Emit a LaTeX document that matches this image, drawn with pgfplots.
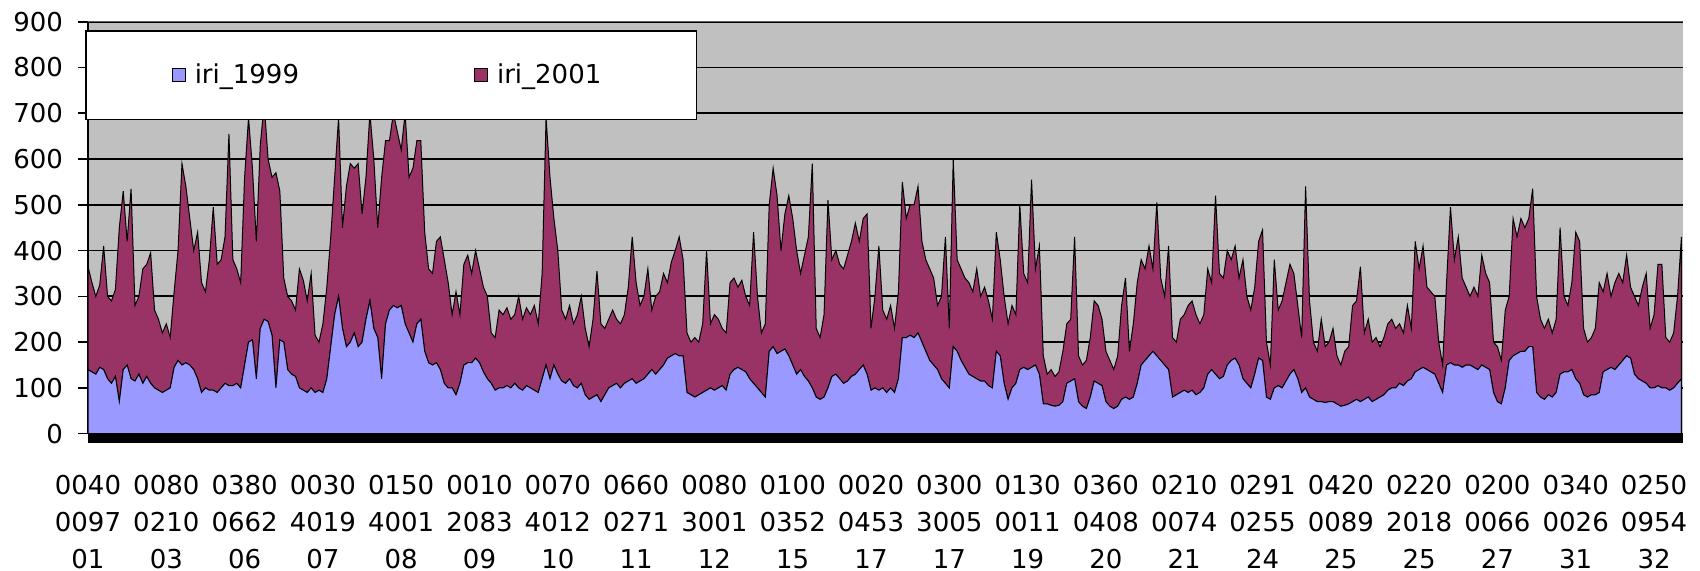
\documentclass[border=0pt]{standalone}
\usepackage{pgfplots}
\pgfplotsset{compat=1.18}
\usepackage{pgfplotstable}
\usepackage{fontspec}
\setmainfont{DejaVu Sans}
\definecolor{xlblue}{HTML}{9999FF}
\definecolor{xlmaroon}{HTML}{993366}
\definecolor{xlgray}{HTML}{C0C0C0}

% i = sample index, a = iri_1999, b = iri_2001 (stacked on top of iri_1999)
\pgfplotstableread{
i a b
0 140 225
1 135 195
2 130 170
3 145 180
4 140 270
5 120 180
6 110 180
7 125 190
8 70 380
9 140 390
10 150 270
11 120 415
12 115 165
13 130 170
14 110 250
15 125 245
16 110 285
17 100 170
18 95 155
19 90 130
20 95 145
21 100 110
22 145 165
23 160 240
24 150 440
25 155 385
26 150 320
27 140 260
28 120 320
29 90 240
30 100 210
31 95 285
32 95 400
33 90 280
34 100 280
35 110 320
36 105 550
37 105 275
38 110 250
39 100 230
40 150 410
41 200 490
42 205 375
43 120 300
44 230 400
45 250 470
46 245 355
47 215 345
48 100 470
49 205 325
50 200 140
51 140 160
52 130 160
53 125 145
54 100 260
55 95 240
56 90 200
57 100 250
58 90 125
59 95 105
60 90 150
61 120 200
62 190 240
63 260 300
64 300 390
65 230 220
66 190 350
67 200 390
68 220 360
69 190 400
70 200 280
71 250 310
72 290 410
73 230 370
74 210 240
75 120 440
76 240 400
77 270 370
78 280 420
79 275 385
80 280 340
81 240 460
82 220 340
83 200 380
84 240 400
85 250 390
86 180 260
87 155 205
88 150 200
89 155 265
90 140 290
91 110 270
92 100 230
93 100 160
94 85 225
95 110 150
96 150 220
97 155 235
98 155 195
99 165 235
100 155 205
101 135 185
102 120 180
103 110 110
104 95 115
105 100 170
106 100 160
107 105 170
108 100 150
109 110 150
110 100 200
111 95 155
112 105 170
113 100 160
114 95 185
115 90 150
116 120 230
117 150 540
118 120 440
119 150 320
120 130 270
121 115 155
122 110 140
123 120 160
124 105 135
125 100 160
126 110 190
127 85 145
128 75 115
129 80 170
130 85 270
131 70 170
132 85 145
133 100 150
134 105 165
135 110 140
136 100 140
137 110 150
138 115 205
139 120 310
140 110 220
141 115 165
142 120 180
143 130 230
144 140 130
145 130 170
146 140 170
147 150 200
148 165 165
149 170 205
150 175 225
151 170 260
152 170 210
153 90 130
154 85 115
155 80 130
156 85 115
157 90 150
158 95 305
159 100 140
160 95 165
161 100 150
162 105 125
163 95 125
164 130 200
165 140 200
166 145 175
167 140 195
168 135 165
169 120 160
170 110 330
171 100 200
172 90 130
173 80 160
174 180 320
175 190 390
176 175 345
177 180 220
178 185 295
179 170 350
180 150 320
181 130 270
182 140 210
183 125 265
184 115 315
185 100 490
186 80 150
187 75 135
188 80 180
189 100 410
190 125 255
191 130 270
192 120 250
193 110 250
194 115 275
195 125 295
196 130 330
197 140 280
198 150 320
199 130 350
200 95 135
201 100 200
202 95 315
203 100 170
204 90 160
205 100 180
206 90 140
207 120 190
208 210 340
209 210 260
210 215 285
211 210 290
212 220 320
213 200 220
214 180 200
215 160 200
216 150 190
217 140 140
218 120 180
219 110 320
220 100 130
221 190 410
222 180 200
223 160 200
224 145 195
225 130 200
226 125 185
227 120 240
228 115 185
229 115 205
230 105 185
231 100 150
232 180 260
233 170 210
234 110 190
235 75 165
236 100 180
237 110 150
238 140 360
239 145 205
240 140 190
241 145 410
242 150 210
243 130 280
244 65 105
245 65 65
246 62 78
247 60 65
248 62 73
249 70 110
250 110 130
251 115 135
252 120 310
253 70 100
254 60 90
255 55 105
256 80 130
257 115 175
258 110 170
259 105 145
260 70 110
261 60 100
262 55 85
263 60 110
264 75 205
265 80 260
266 75 105
267 80 160
268 110 220
269 150 230
270 160 200
271 170 240
272 180 180
273 170 335
274 160 180
275 150 150
276 140 270
277 80 130
278 85 115
279 90 160
280 95 165
281 90 190
282 95 195
283 85 175
284 90 150
285 100 160
286 130 230
287 140 190
288 130 390
289 120 230
290 125 215
291 150 250
292 160 220
293 165 245
294 150 190
295 120 260
296 110 190
297 100 170
298 130 190
299 165 255
300 160 285
301 80 120
302 75 75
303 100 280
304 105 165
305 100 190
306 115 215
307 130 240
308 140 210
309 120 160
310 90 120
311 100 440
312 80 210
313 75 125
314 70 110
315 70 180
316 68 122
317 70 130
318 70 160
319 65 105
320 60 90
321 62 118
322 65 125
323 70 210
324 75 215
325 70 295
326 75 145
327 80 170
328 70 130
329 75 135
330 80 110
331 85 125
332 95 145
333 100 150
334 100 130
335 110 130
336 105 115
337 115 165
338 120 110
339 135 285
340 140 220
341 145 265
342 140 180
343 135 175
344 130 170
345 110 90
346 90 60
347 150 180
348 155 340
349 150 230
350 150 280
351 145 195
352 150 170
353 150 150
354 145 175
355 140 160
356 150 240
357 145 205
358 140 190
359 90 110
360 70 120
361 65 95
362 100 170
363 160 140
364 170 300
365 175 255
366 180 290
367 180 270
368 190 280
369 190 345
370 90 210
371 80 170
372 75 155
373 85 165
374 80 140
375 90 160
376 130 320
377 135 165
378 135 145
379 140 190
380 120 320
381 110 310
382 85 145
383 80 120
384 85 125
385 85 145
386 90 240
387 135 175
388 140 210
389 145 155
390 140 190
391 150 200
392 160 170
393 170 220
394 165 155
395 130 170
396 120 160
397 115 205
398 110 240
399 100 130
400 100 160
401 105 265
402 100 270
403 100 110
404 95 105
405 100 120
406 110 190
407 120 310
}\iridata

\begin{document}
\begin{tikzpicture}
\begin{axis}[
  name=ax,
  at={(44pt,68.65pt)}, anchor=south west,
  scale only axis, width=797.5pt, height=206pt,
  xmin=0, xmax=407.4, ymin=0, ymax=900,
  stack plots=y,
  axis background/.style={fill=xlgray},
  axis x line*=bottom, axis y line*=left,
  x axis line style={draw=none},
  y axis line style={black, line width=0.8pt},
  ytick={0,100,...,900},
  ymajorgrids,
  major grid style={black, line width=0.9pt},
  tick align=outside,
  major tick length=5pt,
  ytick style={black, line width=0.8pt},
  xtick={0,20,...,400},
  xtick style={draw=none},
  xticklabels={{0040\\0097\\01},{0080\\0210\\03},{0380\\0662\\06},{0030\\4019\\07},{0150\\4001\\08},{0010\\2083\\09},{0070\\4012\\10},{0660\\0271\\11},{0080\\3001\\12},{0100\\0352\\15},{0020\\0453\\17},{0300\\3005\\17},{0130\\0011\\19},{0360\\0408\\20},{0210\\0074\\21},{0291\\0255\\24},{0420\\0089\\25},{0220\\2018\\25},{0200\\0066\\27},{0340\\0026\\31},{0250\\0954\\32}},
  xticklabel style={align=center, font=\fontsize{13}{18.5}\selectfont, yshift=-12pt},
  yticklabel style={font=\fontsize{13}{15}\selectfont, xshift=-4pt},
  /pgf/number format/assume math mode=true,
  legend columns=2,
  legend image code/.code={\draw[#1, draw=black, line width=0.5pt] (0pt,-3pt) rectangle (6.5pt,3.5pt);},
  legend style={at={(-0.0019,0.9799)}, anchor=north west, draw=black, line width=0.8pt, fill=white,
    font=\fontsize{13}{15}\selectfont, inner xsep=43pt, inner ysep=14.5pt,
    nodes={inner xsep=4.5pt},
    /tikz/every even column/.append style={column sep=83pt}},
]
\addplot[fill=xlblue, draw=black, line width=0.5pt] table[x=i, y=a] {\iridata} \closedcycle;
\addlegendentry{iri\_1999}
\addplot[fill=xlmaroon, draw=black, line width=0.5pt] table[x=i, y=b] {\iridata} \closedcycle;
\addlegendentry{iri\_2001}
\end{axis}
\fill[black] (ax.south west) rectangle ([yshift=-4.75pt]ax.south east);
\draw[gray!75!black, line width=0.8pt] (ax.north west) -- (ax.north east);
\pgfresetboundingbox
\path[use as bounding box] (0,0) rectangle (850pt,285.5pt);
\end{tikzpicture}
\end{document}
